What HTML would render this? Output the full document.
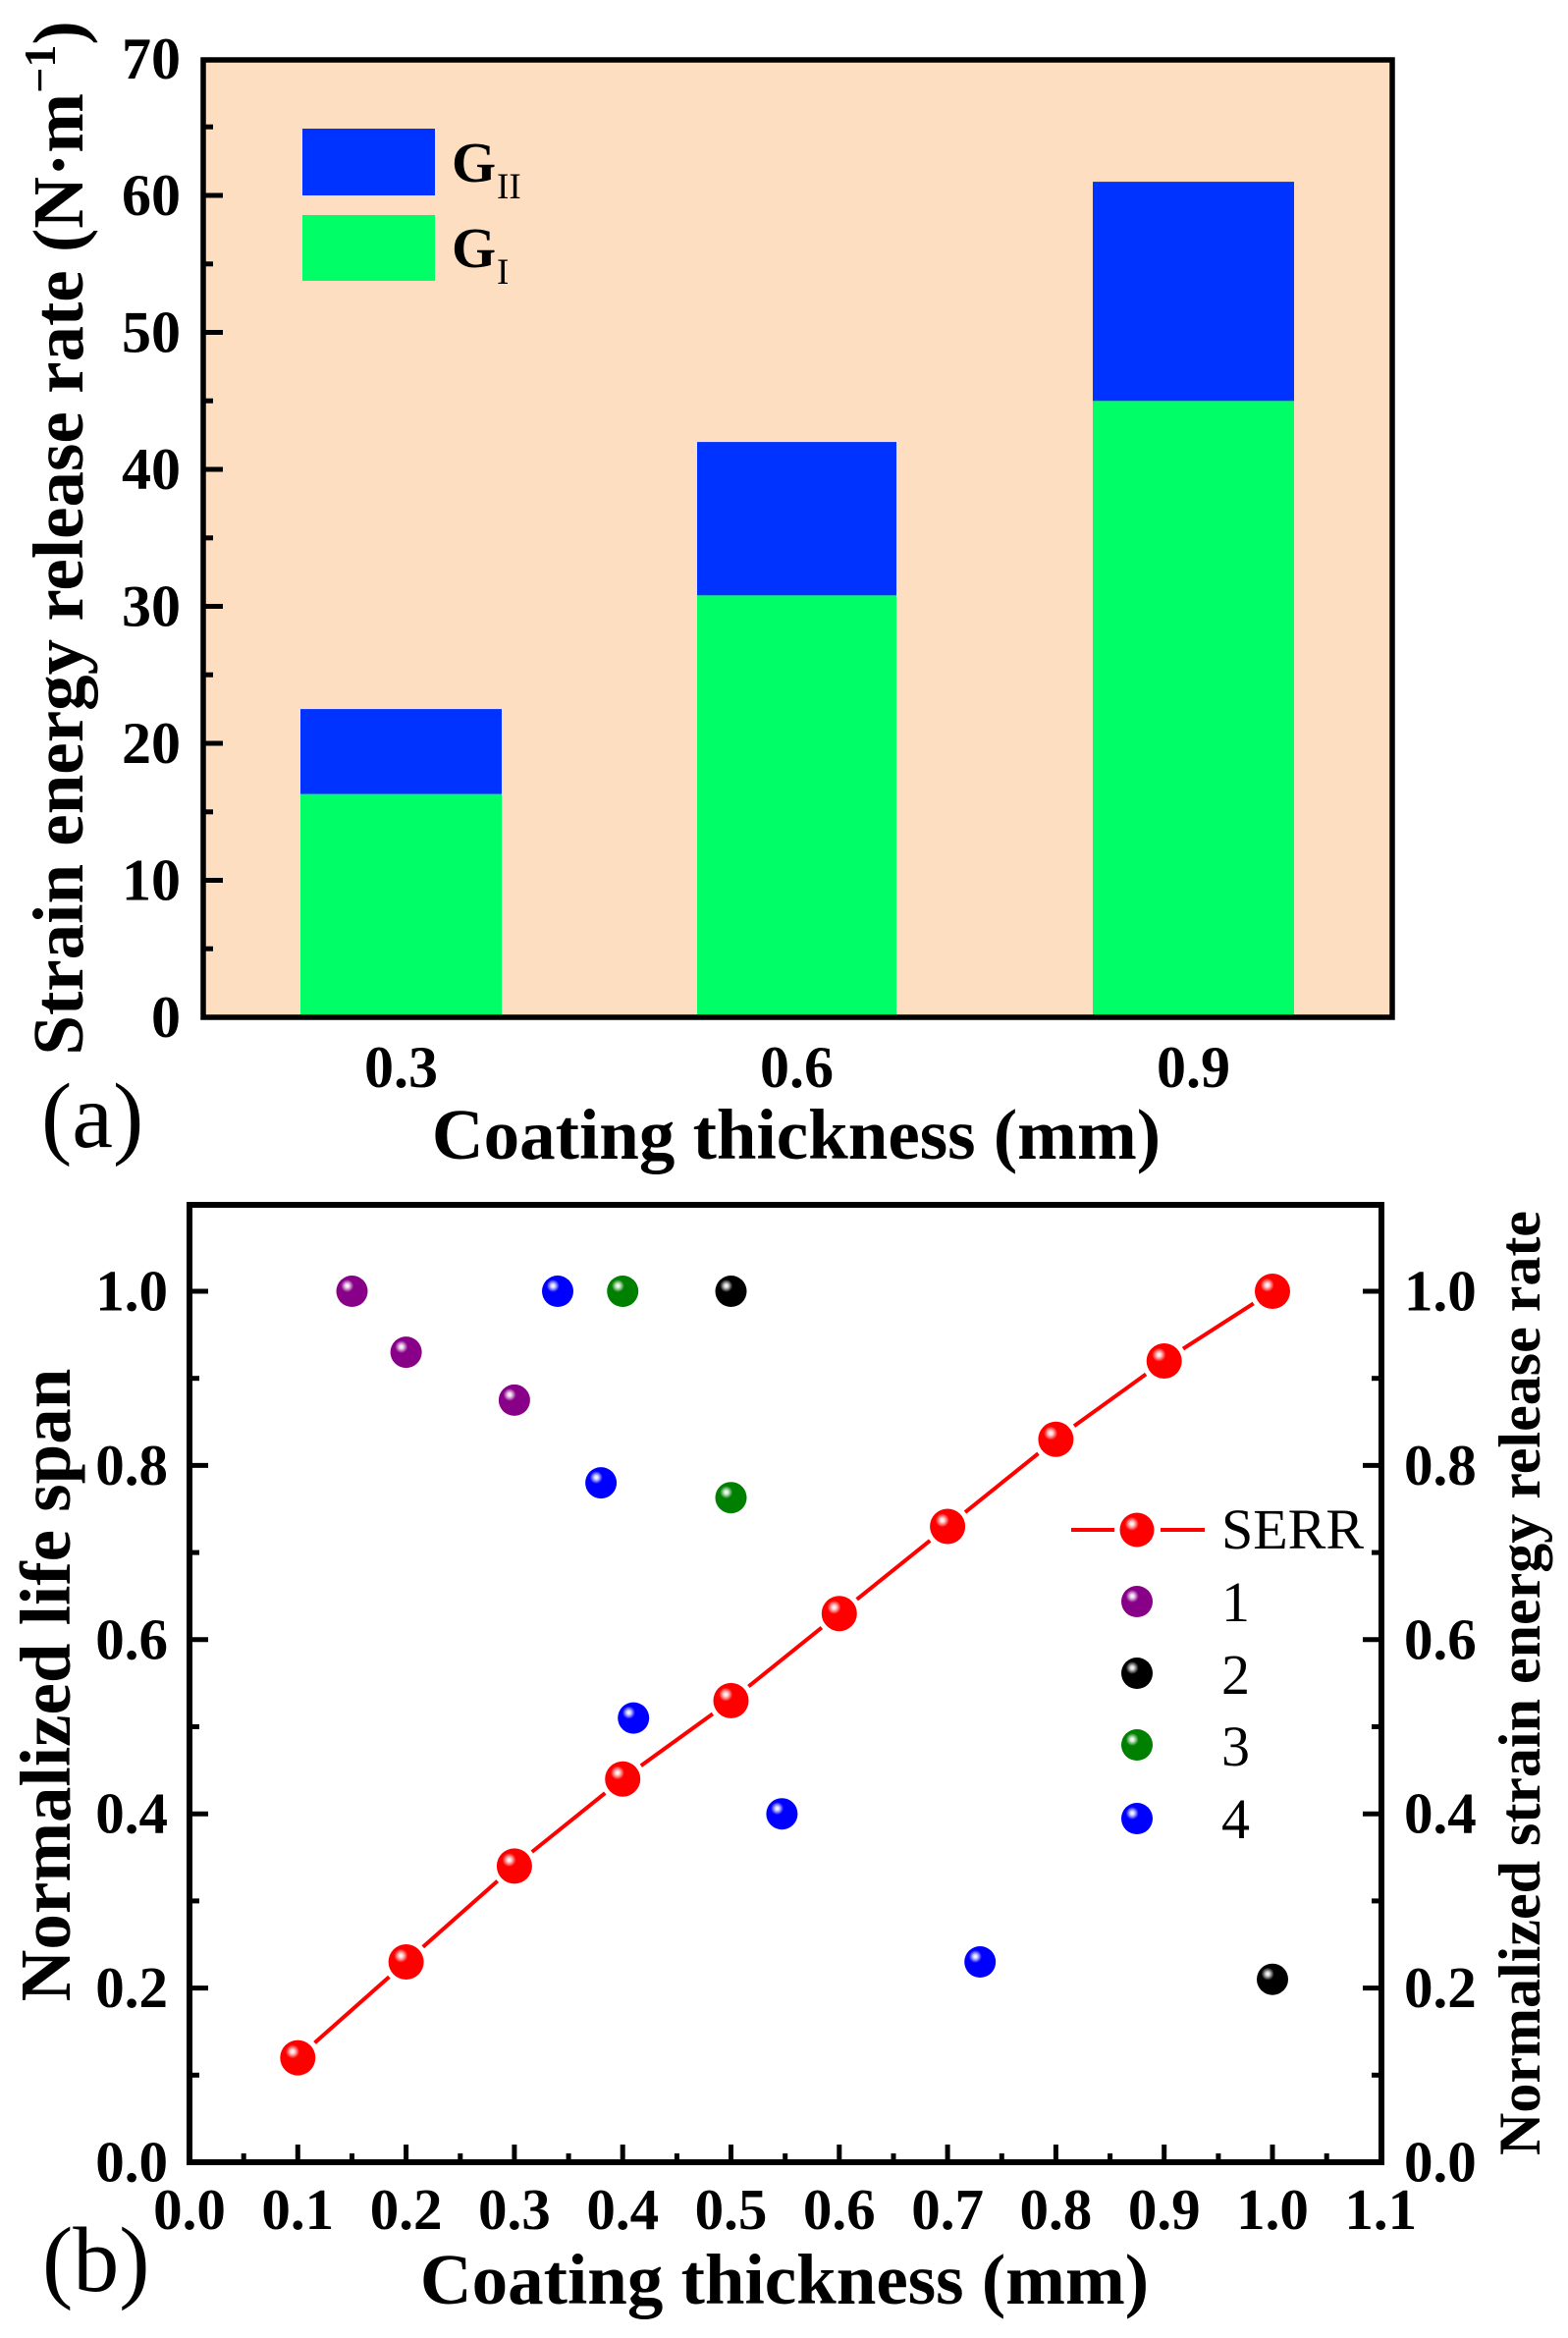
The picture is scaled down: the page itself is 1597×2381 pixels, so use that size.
<!DOCTYPE html>
<html>
<head>
<meta charset="utf-8">
<style>
html,body{margin:0;padding:0;background:#fff;}
svg{display:block;}
text{font-family:"Liberation Serif","Times New Roman",serif;fill:#000;}
.b{font-weight:bold;}
</style>
</head>
<body>
<svg width="1597" height="2381" viewBox="0 0 1597 2381" xmlns="http://www.w3.org/2000/svg">
<defs>
  <radialGradient id="hl" cx="0.5" cy="0.5" r="0.5">
    <stop offset="0" stop-color="#fff" stop-opacity="1"/>
    <stop offset="0.3" stop-color="#fff" stop-opacity="0.85"/>
    <stop offset="1" stop-color="#fff" stop-opacity="0"/>
  </radialGradient>
</defs>

<!-- ================= PANEL A ================= -->
<rect x="207" y="61" width="1211" height="975" fill="#FDDEC0"/>
<!-- bars -->
<rect x="306" y="808.6" width="205" height="227.4" fill="#00FF66"/>
<rect x="306" y="722.1" width="205" height="86.5" fill="#0033FF"/>
<rect x="710" y="606.3" width="203" height="429.7" fill="#00FF66"/>
<rect x="710" y="450.1" width="203" height="156.2" fill="#0033FF"/>
<rect x="1113" y="408.3" width="205" height="627.7" fill="#00FF66"/>
<rect x="1113" y="185.1" width="205" height="223.2" fill="#0033FF"/>
<!-- legend -->
<rect x="308" y="131" width="135" height="68" fill="#0033FF"/>
<rect x="308" y="219" width="135" height="67" fill="#00FF66"/>
<text x="460" y="185" font-size="58" class="b">G</text>
<text x="506" y="202" font-size="37">II</text>
<text x="460" y="272" font-size="58" class="b">G</text>
<text x="506" y="289" font-size="37">I</text>
<!-- frame -->
<rect x="207" y="61" width="1211" height="975" fill="none" stroke="#000" stroke-width="5.5"/>
<!-- ticks -->
<g stroke="#000" stroke-width="5">
  <line x1="207" y1="896.5" x2="227" y2="896.5"/>
  <line x1="207" y1="757" x2="227" y2="757"/>
  <line x1="207" y1="617.5" x2="227" y2="617.5"/>
  <line x1="207" y1="478" x2="227" y2="478"/>
  <line x1="207" y1="338.5" x2="227" y2="338.5"/>
  <line x1="207" y1="199" x2="227" y2="199"/>
  <line x1="207" y1="966.2" x2="217" y2="966.2"/>
  <line x1="207" y1="826.8" x2="217" y2="826.8"/>
  <line x1="207" y1="687.2" x2="217" y2="687.2"/>
  <line x1="207" y1="547.8" x2="217" y2="547.8"/>
  <line x1="207" y1="408.2" x2="217" y2="408.2"/>
  <line x1="207" y1="268.8" x2="217" y2="268.8"/>
  <line x1="207" y1="129.2" x2="217" y2="129.2"/>
</g>
<!-- y tick labels -->
<g font-size="60" class="b" text-anchor="end">
  <text x="184" y="1056" class="b">0</text>
  <text x="184" y="916.5" class="b">10</text>
  <text x="184" y="777" class="b">20</text>
  <text x="184" y="637.5" class="b">30</text>
  <text x="184" y="498" class="b">40</text>
  <text x="184" y="358.5" class="b">50</text>
  <text x="184" y="219" class="b">60</text>
  <text x="184" y="80" class="b">70</text>
</g>
<!-- x tick labels -->
<g font-size="60" text-anchor="middle">
  <text x="408.5" y="1107" class="b">0.3</text>
  <text x="811.5" y="1107" class="b">0.6</text>
  <text x="1215.5" y="1107" class="b">0.9</text>
</g>
<text x="811" y="1180" font-size="73" class="b" text-anchor="middle">Coating thickness (mm)</text>
<text transform="translate(84,548) rotate(-90)" font-size="73" class="b" text-anchor="middle">Strain energy release rate (N·m<tspan dy="-28" font-size="46">−1</tspan><tspan dy="28">)</tspan></text>
<text x="42" y="1168" font-size="94">(a)</text>

<!-- ================= PANEL B ================= -->
<!-- SERR line -->
<g stroke="#FF0000" stroke-width="4" stroke-linecap="butt">
  <line x1="320.5" y1="2080.4" x2="396.4" y2="2013.2"/>
  <line x1="430.8" y1="1982.8" x2="506.7" y2="1915.6"/>
  <line x1="541.8" y1="1886.0" x2="616.3" y2="1826.1"/>
  <line x1="652.8" y1="1798.2" x2="725.9" y2="1745.4"/>
  <line x1="762.4" y1="1717.5" x2="836.9" y2="1657.6"/>
  <line x1="872.7" y1="1628.8" x2="947.2" y2="1568.9"/>
  <line x1="983.0" y1="1540.1" x2="1057.5" y2="1480.2"/>
  <line x1="1094.0" y1="1452.3" x2="1167.1" y2="1399.5"/>
  <line x1="1205.0" y1="1373.6" x2="1276.7" y2="1327.4"/>
</g>
<!-- SERR markers -->
<g fill="#FF0000">
  <circle cx="303.3" cy="2095.6" r="18"/>
  <circle cx="413.6" cy="1998" r="18"/>
  <circle cx="523.9" cy="1900.4" r="18"/>
  <circle cx="634.2" cy="1811.7" r="18"/>
  <circle cx="744.5" cy="1731.9" r="18"/>
  <circle cx="854.8" cy="1643.2" r="18"/>
  <circle cx="965.1" cy="1554.5" r="18"/>
  <circle cx="1075.4" cy="1465.8" r="18"/>
  <circle cx="1185.7" cy="1386" r="18"/>
  <circle cx="1296" cy="1315" r="18"/>
</g>
<g fill="url(#hl)">
  <circle cx="298" cy="2089.3" r="7"/>
  <circle cx="408.3" cy="1991.7" r="7"/>
  <circle cx="518.6" cy="1894.1" r="7"/>
  <circle cx="628.9" cy="1805.4" r="7"/>
  <circle cx="739.2" cy="1725.6" r="7"/>
  <circle cx="849.5" cy="1636.9" r="7"/>
  <circle cx="959.8" cy="1548.2" r="7"/>
  <circle cx="1070.1" cy="1459.5" r="7"/>
  <circle cx="1180.4" cy="1379.7" r="7"/>
  <circle cx="1290.7" cy="1308.7" r="7"/>
</g>
<!-- series 1 purple -->
<g fill="#880088">
  <circle cx="358.5" cy="1315" r="16"/>
  <circle cx="413.6" cy="1377.1" r="16"/>
  <circle cx="523.9" cy="1425.9" r="16"/>
</g>
<!-- series 2 black -->
<g fill="#000">
  <circle cx="744.5" cy="1315" r="16"/>
  <circle cx="1296" cy="2015.7" r="16"/>
</g>
<!-- series 3 green -->
<g fill="#008000">
  <circle cx="634.2" cy="1315" r="16"/>
  <circle cx="744.5" cy="1525.2" r="16"/>
</g>
<!-- series 4 blue -->
<g fill="#0000FF">
  <circle cx="568" cy="1315" r="16"/>
  <circle cx="612.1" cy="1510.1" r="16"/>
  <circle cx="645.2" cy="1749.6" r="16"/>
  <circle cx="796.4" cy="1847.2" r="16"/>
  <circle cx="998.2" cy="1998" r="16"/>
</g>
<g fill="url(#hl)">
  <circle cx="353.7" cy="1309.5" r="6.5"/>
  <circle cx="408.8" cy="1371.6" r="6.5"/>
  <circle cx="519.1" cy="1420.4" r="6.5"/>
  <circle cx="739.7" cy="1309.5" r="6.5"/>
  <circle cx="1291.2" cy="2010.2" r="6.5"/>
  <circle cx="629.4" cy="1309.5" r="6.5"/>
  <circle cx="739.7" cy="1519.7" r="6.5"/>
  <circle cx="563.2" cy="1309.5" r="6.5"/>
  <circle cx="607.3" cy="1504.6" r="6.5"/>
  <circle cx="640.4" cy="1744.1" r="6.5"/>
  <circle cx="791.6" cy="1841.7" r="6.5"/>
  <circle cx="993.4" cy="1992.5" r="6.5"/>
</g>
<!-- legend b -->
<g stroke="#FF0000" stroke-width="4">
  <line x1="1091" y1="1558" x2="1135" y2="1558"/>
  <line x1="1182" y1="1558" x2="1227" y2="1558"/>
</g>
<circle cx="1158" cy="1558" r="17.5" fill="#FF0000"/>
<circle cx="1152.8" cy="1551.9" r="7" fill="url(#hl)"/>
<circle cx="1158" cy="1631" r="16" fill="#880088"/>
<circle cx="1153.2" cy="1625.5" r="6.5" fill="url(#hl)"/>
<circle cx="1158" cy="1704" r="16" fill="#000"/>
<circle cx="1153.2" cy="1698.5" r="6.5" fill="url(#hl)"/>
<circle cx="1158" cy="1777" r="16" fill="#008000"/>
<circle cx="1153.2" cy="1771.5" r="6.5" fill="url(#hl)"/>
<circle cx="1158" cy="1852" r="16" fill="#0000FF"/>
<circle cx="1153.2" cy="1846.5" r="6.5" fill="url(#hl)"/>
<g font-size="58">
  <text x="1244" y="1577">SERR</text>
  <text x="1244" y="1651">1</text>
  <text x="1244" y="1725">2</text>
  <text x="1244" y="1798">3</text>
  <text x="1244" y="1872">4</text>
</g>
<!-- frame -->
<rect x="193" y="1227" width="1214" height="975" fill="none" stroke="#000" stroke-width="6"/>
<!-- ticks -->
<g stroke="#000" stroke-width="5">
  <!-- left major -->
  <line x1="193" y1="2024.6" x2="212" y2="2024.6"/>
  <line x1="193" y1="1847.2" x2="212" y2="1847.2"/>
  <line x1="193" y1="1669.8" x2="212" y2="1669.8"/>
  <line x1="193" y1="1492.4" x2="212" y2="1492.4"/>
  <line x1="193" y1="1315" x2="212" y2="1315"/>
  <!-- left minor -->
  <line x1="193" y1="2113.3" x2="203" y2="2113.3"/>
  <line x1="193" y1="1935.9" x2="203" y2="1935.9"/>
  <line x1="193" y1="1758.5" x2="203" y2="1758.5"/>
  <line x1="193" y1="1581.1" x2="203" y2="1581.1"/>
  <line x1="193" y1="1403.7" x2="203" y2="1403.7"/>
  <!-- right major -->
  <line x1="1388" y1="2024.6" x2="1407" y2="2024.6"/>
  <line x1="1388" y1="1847.2" x2="1407" y2="1847.2"/>
  <line x1="1388" y1="1669.8" x2="1407" y2="1669.8"/>
  <line x1="1388" y1="1492.4" x2="1407" y2="1492.4"/>
  <line x1="1388" y1="1315" x2="1407" y2="1315"/>
  <!-- right minor -->
  <line x1="1397" y1="2113.3" x2="1407" y2="2113.3"/>
  <line x1="1397" y1="1935.9" x2="1407" y2="1935.9"/>
  <line x1="1397" y1="1758.5" x2="1407" y2="1758.5"/>
  <line x1="1397" y1="1581.1" x2="1407" y2="1581.1"/>
  <line x1="1397" y1="1403.7" x2="1407" y2="1403.7"/>
  <!-- bottom major -->
  <line x1="303.3" y1="2184" x2="303.3" y2="2202"/>
  <line x1="413.6" y1="2184" x2="413.6" y2="2202"/>
  <line x1="523.9" y1="2184" x2="523.9" y2="2202"/>
  <line x1="634.2" y1="2184" x2="634.2" y2="2202"/>
  <line x1="744.5" y1="2184" x2="744.5" y2="2202"/>
  <line x1="854.8" y1="2184" x2="854.8" y2="2202"/>
  <line x1="965.1" y1="2184" x2="965.1" y2="2202"/>
  <line x1="1075.4" y1="2184" x2="1075.4" y2="2202"/>
  <line x1="1185.7" y1="2184" x2="1185.7" y2="2202"/>
  <line x1="1296" y1="2184" x2="1296" y2="2202"/>
  <!-- bottom minor -->
  <line x1="248.2" y1="2193" x2="248.2" y2="2202"/>
  <line x1="358.5" y1="2193" x2="358.5" y2="2202"/>
  <line x1="468.8" y1="2193" x2="468.8" y2="2202"/>
  <line x1="579.1" y1="2193" x2="579.1" y2="2202"/>
  <line x1="689.4" y1="2193" x2="689.4" y2="2202"/>
  <line x1="799.7" y1="2193" x2="799.7" y2="2202"/>
  <line x1="910" y1="2193" x2="910" y2="2202"/>
  <line x1="1020.3" y1="2193" x2="1020.3" y2="2202"/>
  <line x1="1130.6" y1="2193" x2="1130.6" y2="2202"/>
  <line x1="1240.9" y1="2193" x2="1240.9" y2="2202"/>
  <line x1="1351.2" y1="2193" x2="1351.2" y2="2202"/>
</g>
<!-- left tick labels -->
<g font-size="59" text-anchor="end">
  <text x="171" y="2221.5" class="b">0.0</text>
  <text x="171" y="2044.1" class="b">0.2</text>
  <text x="171" y="1866.7" class="b">0.4</text>
  <text x="171" y="1689.3" class="b">0.6</text>
  <text x="171" y="1511.9" class="b">0.8</text>
  <text x="171" y="1334.5" class="b">1.0</text>
</g>
<!-- right tick labels -->
<g font-size="59">
  <text x="1430" y="2221.5" class="b">0.0</text>
  <text x="1430" y="2044.1" class="b">0.2</text>
  <text x="1430" y="1866.7" class="b">0.4</text>
  <text x="1430" y="1689.3" class="b">0.6</text>
  <text x="1430" y="1511.9" class="b">0.8</text>
  <text x="1430" y="1334.5" class="b">1.0</text>
</g>
<!-- bottom tick labels -->
<g font-size="59" text-anchor="middle">
  <text x="193" y="2270" class="b">0.0</text>
  <text x="303.3" y="2270" class="b">0.1</text>
  <text x="413.6" y="2270" class="b">0.2</text>
  <text x="523.9" y="2270" class="b">0.3</text>
  <text x="634.2" y="2270" class="b">0.4</text>
  <text x="744.5" y="2270" class="b">0.5</text>
  <text x="854.8" y="2270" class="b">0.6</text>
  <text x="965.1" y="2270" class="b">0.7</text>
  <text x="1075.4" y="2270" class="b">0.8</text>
  <text x="1185.7" y="2270" class="b">0.9</text>
  <text x="1296" y="2270" class="b">1.0</text>
  <text x="1406.3" y="2270" class="b">1.1</text>
</g>
<text x="799" y="2346" font-size="73" class="b" text-anchor="middle">Coating thickness (mm)</text>
<text transform="translate(71,1716) rotate(-90)" font-size="73" class="b" text-anchor="middle">Normalized life span</text>
<text transform="translate(1568,1714) rotate(-90)" font-size="60" class="b" text-anchor="middle">Normalized strain energy release rate</text>
<text x="43" y="2333" font-size="94">(b)</text>
</svg>
</body>
</html>
